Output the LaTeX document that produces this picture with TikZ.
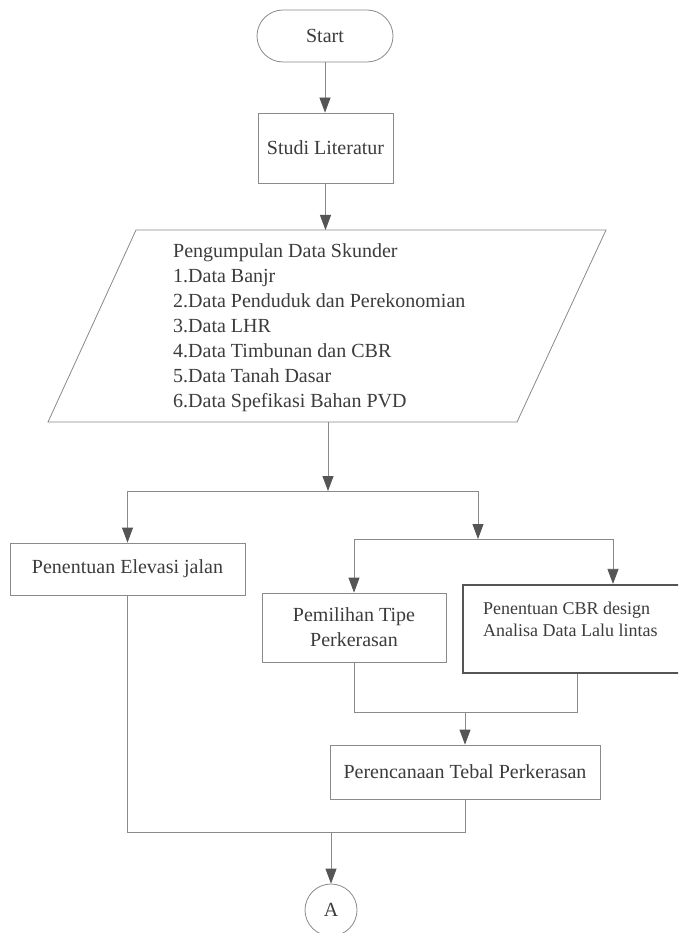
\documentclass[tikz,border=0pt]{standalone}
\usepackage{fontspec}
\setmainfont{Liberation Serif}
\usetikzlibrary{arrows.meta,calc}
\definecolor{linec}{HTML}{8A8A8A}
\definecolor{tipc}{HTML}{555555}
\definecolor{txtc}{HTML}{3C3C3C}
\begin{document}
\begin{tikzpicture}[x=1pt,y=-1pt,
  box/.style={draw=linec, line width=0.8pt, text=txtc, font=\fontsize{20}{25}\selectfont, inner sep=0pt, align=center},
  conn/.style={draw=linec, line width=0.8pt},
  arr/.style={conn, -{Triangle[length=15pt,width=11pt,color=tipc]}},
  plain/.style={text=txtc, inner sep=0pt, align=left, anchor=west}
]
\useasboundingbox (0,0) rectangle (678,933);
\clip (0,0) rectangle (678,933);
\fill[white] (0,0) rectangle (678,933);

\node[box, rounded corners=26pt, minimum width=136pt, minimum height=52pt] (start) at (325,36) {Start};
\node[box, minimum width=135pt, minimum height=70pt] (studi) at (325.5,148) {Studi Literatur};

% parallelogram (input data)
\coordinate (ptl) at (136,230);
\coordinate (ptr) at (606,230);
\coordinate (pbr) at (517,422);
\coordinate (pbl) at (48,422);
\draw[conn] (ptl) -- (ptr) -- (pbr) -- (pbl) -- cycle;
\coordinate (dtop) at (326,230);
\coordinate (dbot) at (328,422);
\node[plain, font=\fontsize{20}{25}\selectfont] (data) at (173,328) {Pengumpulan Data Skunder\\1.Data Banjr\\2.Data Penduduk dan Perekonomian\\3.Data LHR\\4.Data Timbunan dan CBR\\5.Data Tanah Dasar\\6.Data Spefikasi Bahan PVD};

\node[box, minimum width=235pt, minimum height=52pt] (elev) at (127.5,569) {Penentuan Elevasi jalan};
\node[box, minimum width=184pt, minimum height=69pt] (pem) at (354,627.5) {Pemilihan Tipe\\Perkerasan};
\node[draw=tipc, line width=2.2pt, minimum width=240pt, minimum height=88pt, inner sep=0pt] (cbr) at (583,629) {};
\node[plain, font=\fontsize{18}{22}\selectfont] (cbrtext) at (483,619) {Penentuan CBR design\\Analisa Data Lalu lintas};
\node[box, minimum width=270pt, minimum height=54pt] (per) at (465,772) {Perencanaan Tebal Perkerasan};
\node[box, circle, minimum size=52pt] (conA) at (331,910) {A};

% connectors
\draw[arr] (start.south) -- (start.south |- studi.north);
\draw[arr] (studi.south) -- (studi.south |- dtop);

\coordinate (s1) at (328,491);
\coordinate (s1l) at (127.5,491);
\coordinate (s1r) at (478,491);
\draw[arr] (dbot) -- (s1);
\draw[conn] (s1l) -- (s1r);
\draw[arr] (s1l) -- (elev.north);

\coordinate (s2) at (478,539);
\coordinate (s2l) at (354,539);
\coordinate (s2r) at (613,539);
\draw[arr] (s1r) -- (s2);
\draw[conn] (s2l) -- (s2r);
\draw[arr] (s2l) -- (pem.north);
\draw[arr] (s2r) -- (s2r |- cbr.north);

\coordinate (m1) at (465,712);
\coordinate (cx) at (577,712);
\draw[conn] (pem.south) |- (cx) -- (cx |- cbr.south);
\draw[arr] (m1) -- (per.north);

\coordinate (j1) at (331,832);
\draw[conn] (per.south) |- (elev.south |- j1) -- (elev.south);
\draw[arr] (j1) -- (conA.north);
\end{tikzpicture}
\end{document}
